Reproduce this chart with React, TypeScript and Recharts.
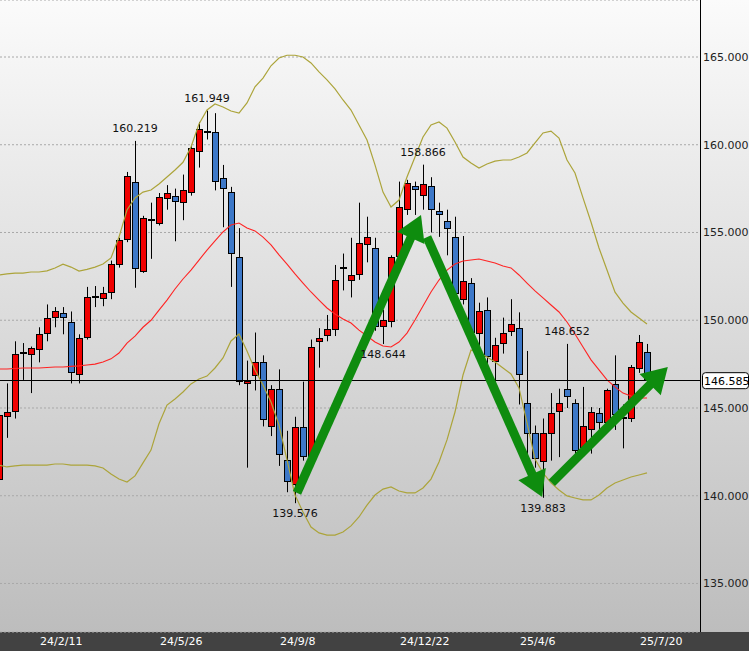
import { ComposedChart, Bar, Line, XAxis, YAxis, CartesianGrid, ReferenceLine, ReferenceDot } from 'recharts';

const FONT = '"DejaVu Sans", Verdana, sans-serif';

const weeks = [
  '23/12/31',
  '24/1/7', '24/1/14', '24/1/21', '24/1/28', '24/2/4', '24/2/11', '24/2/18', '24/2/25', '24/3/3', '24/3/10',
  '24/3/17', '24/3/24', '24/3/31', '24/4/7', '24/4/14', '24/4/21', '24/4/28', '24/5/5', '24/5/12', '24/5/19',
  '24/5/26', '24/6/2', '24/6/9', '24/6/16', '24/6/23', '24/6/30', '24/7/7', '24/7/14', '24/7/21', '24/7/28',
  '24/8/4', '24/8/11', '24/8/18', '24/8/25', '24/9/1', '24/9/8', '24/9/15', '24/9/22', '24/9/29', '24/10/6',
  '24/10/13', '24/10/20', '24/10/27', '24/11/3', '24/11/10', '24/11/17', '24/11/24', '24/12/1', '24/12/8', '24/12/15',
  '24/12/22', '24/12/29',
  '25/1/5', '25/1/12', '25/1/19', '25/1/26', '25/2/2', '25/2/9', '25/2/16', '25/2/23', '25/3/2', '25/3/9',
  '25/3/16', '25/3/23', '25/3/30', '25/4/6', '25/4/13', '25/4/20', '25/4/27', '25/5/4', '25/5/11', '25/5/18',
  '25/5/25', '25/6/1', '25/6/8', '25/6/15', '25/6/22', '25/6/29', '25/7/6', '25/7/13', '25/7/20',
];

const opens = [
  140.9, 144.5, 144.8, 148.1, 148.0, 148.3, 149.2, 150.1, 150.4, 149.9,
  146.9, 149.0, 151.3, 151.2, 151.55, 153.15, 154.6, 157.9, 152.75, 155.65,
  155.5, 156.9, 157.1, 156.7, 157.25, 159.6, 160.75, 160.7, 158.1, 157.3,
  153.6, 146.37, 146.8, 147.6, 143.9, 146.1, 142.05, 140.6, 143.9, 142.2,
  148.76, 149.1, 149.45, 152.95, 152.25, 152.6, 154.3, 154.1, 149.6, 149.9,
  153.6, 156.3, 157.65, 157.1, 157.65, 156.2, 155.65, 154.75, 151.15, 152.1,
  149.2, 150.6, 147.6, 148.65, 149.35, 149.55, 145.3, 143.6, 141.9, 143.5,
  144.8, 146.1, 145.3, 142.7, 143.75, 144.7, 144.15, 146.35, 144.4, 144.4,
  147.2, 148.2,
];
const highs = [
  145.0, 146.4, 148.8, 148.7, 148.5, 149.6, 150.9, 150.75, 150.75, 150.5,
  149.2, 151.9, 151.95, 151.9, 153.4, 154.7, 158.45, 160.219, 155.95, 156.7,
  157.25, 157.7, 157.5, 158.3, 160.0, 161.3, 161.949, 161.8, 158.85, 157.6,
  155.25, 147.7, 149.3, 148.0, 146.3, 147.2, 143.7, 144.5, 146.5, 148.9,
  149.55, 150.3, 153.15, 153.8, 154.7, 156.7, 155.9, 154.7, 150.6, 153.7,
  157.9, 158.0, 157.9, 158.866, 158.15, 156.7, 156.3, 155.9, 154.8, 152.4,
  151.0, 151.3, 149.0, 150.15, 151.2, 150.45, 148.25, 144.0, 144.4, 145.85,
  146.1, 148.652, 145.5, 146.2, 145.05, 145.0, 146.1, 148.0, 145.2, 147.45,
  149.16, 148.65,
];
const lows = [
  140.8, 143.3, 144.4, 146.6, 145.85, 147.6, 148.8, 149.6, 149.2, 146.4,
  146.4, 148.9, 150.75, 150.8, 151.2, 153.0, 154.45, 151.85, 152.7, 153.5,
  155.4, 156.3, 154.5, 155.7, 157.1, 158.7, 160.3, 157.4, 155.3, 151.9,
  146.3, 141.6, 146.0, 143.95, 143.4, 141.7, 140.2, 139.576, 142.0, 141.7,
  147.3, 148.8, 149.1, 151.7, 151.3, 152.3, 153.3, 149.4, 148.644, 149.6,
  153.2, 156.0, 156.0, 156.3, 155.0, 154.75, 153.7, 151.3, 150.9, 149.3,
  148.5, 146.6, 146.5, 148.1, 149.1, 145.2, 142.1, 141.6, 139.883, 142.0,
  142.2, 145.0, 142.1, 142.25, 142.4, 143.6, 143.75, 143.75, 142.7, 144.2,
  147.0, 146.5,
];
const closes = [
  144.6, 144.8, 148.1, 148.15, 148.4, 149.2, 150.1, 150.5, 150.1, 147.0,
  149.0, 151.3, 151.35, 151.55, 153.2, 154.6, 158.2, 152.9, 155.8, 155.7,
  157.0, 157.25, 156.75, 157.4, 159.8, 160.9, 160.7, 157.9, 157.5, 153.8,
  146.5, 146.54, 147.6, 144.3, 146.1, 142.3, 140.8, 143.9, 142.2, 148.5,
  149.0, 149.5, 152.3, 153.0, 152.6, 154.4, 154.75, 149.6, 150.0, 153.6,
  156.45, 157.8, 157.4, 157.75, 156.3, 156.0, 155.2, 151.5, 152.25, 149.3,
  150.5, 147.9, 148.6, 149.3, 149.8, 146.9, 143.5, 142.1, 143.6, 144.7,
  145.3, 145.6, 142.55, 143.95, 144.8, 144.15, 146.0, 144.6, 144.5, 147.35,
  148.76, 146.585,
];

// bollinger bands
const upperBand = [
  152.58, 152.64, 152.69, 152.69, 152.75, 152.75, 152.81, 152.98, 153.2, 153.03,
  152.8, 152.9, 153.03, 153.2, 153.55, 154.74, 156.28, 156.97, 157.3, 157.42,
  157.76, 158.16, 158.56, 159.0, 159.87, 161.18, 161.98, 162.32, 162.15, 161.92,
  161.8, 162.38, 163.3, 163.8, 164.5, 164.94, 165.1, 165.1, 165.0, 164.66,
  164.15, 163.7, 163.18, 162.55, 161.98, 161.13, 160.27, 158.85, 157.3, 156.45,
  156.85, 158.16, 159.3, 160.44, 161.13, 161.3, 160.95, 160.16, 159.3, 158.96,
  158.67, 158.9, 159.07, 159.13, 159.13, 159.3, 159.53, 160.1, 160.67, 160.78,
  160.38, 159.13, 158.39, 156.97, 155.6, 154.12, 152.86, 151.6, 150.98, 150.47,
  150.13, 149.79,
];
const midBand = [
  147.22, 147.22, 147.25, 147.28, 147.28, 147.28, 147.31, 147.34, 147.34, 147.37,
  147.4, 147.45, 147.5, 147.62, 147.8, 148.13, 148.7, 149.1, 149.6, 150.0,
  150.58, 151.15, 151.78, 152.35, 152.86, 153.43, 154.0, 154.52, 155.03, 155.43,
  155.54, 155.26, 155.09, 154.74, 154.29, 153.72, 153.2, 152.64, 152.12, 151.61,
  151.15, 150.7, 150.36, 150.07, 149.84, 149.44, 149.1, 148.76, 148.53, 148.48,
  148.76, 149.27, 150.01, 150.81, 151.61, 152.29, 152.86, 153.2, 153.38, 153.43,
  153.49, 153.38, 153.26, 153.09, 152.98, 152.58, 152.12, 151.67, 151.27, 150.87,
  150.47, 149.9, 149.22, 148.48, 147.74, 147.17, 146.6, 146.2, 145.85, 145.68,
  145.57, 145.57,
];
const lowerBand = [
  141.75, 141.64, 141.7, 141.75, 141.75, 141.75, 141.75, 141.81, 141.81, 141.75,
  141.75, 141.75, 141.7, 141.58, 141.24, 140.95, 140.78, 141.13, 141.87, 142.6,
  144.1, 145.17, 145.51, 145.91, 146.37, 146.65, 146.82, 147.28, 147.85, 148.82,
  149.22, 148.25, 147.17, 146.31, 145.34, 144.03, 142.04, 140.04, 139.07, 138.22,
  137.88, 137.76, 137.76, 137.93, 138.28, 138.79, 139.47, 140.04, 140.38, 140.5,
  140.27, 140.16, 140.16, 140.44, 140.95, 141.92, 143.18, 144.77, 146.88, 148.3,
  148.19, 147.91, 147.62, 147.28, 146.94, 146.14, 144.15, 142.09, 141.3, 140.73,
  140.33, 139.99, 139.87, 139.76, 139.76, 140.04, 140.44, 140.73, 140.9, 141.07,
  141.18, 141.3,
];

const yTicks = [135, 140, 145, 150, 155, 160, 165];
const dateTicks = ['24/2/11', '24/5/26', '24/9/8', '24/12/22', '25/4/6', '25/7/20'];
const lastPrice = 146.585;
const markedHighs = [17, 26, 53, 71];
const markedLows = [37, 48, 68];
// hand drawn arrows: [from week, from price, to week, to price]
const arrows = [
  [37.25, 140.16, 52.75, 156.0],
  [53.5, 154.74, 67.9, 139.93],
  [69.1, 140.73, 83.6, 147.34],
];

const data = weeks.map((w, i) => ({
  i,
  week: w,
  open: opens[i],
  high: highs[i],
  low: lows[i],
  close: closes[i],
  upper: upperBand[i],
  mid: midBand[i],
  lower: lowerBand[i],
}));

function Candle(props: any) {
  const { x, y, width, height, payload } = props;
  if (!payload || height == null || isNaN(y)) return null;
  const { open, high, low, close } = payload;
  const cx = Math.floor(x + width / 2);
  const yOf = (v: number) => y + ((high - v) / (high - low)) * height;
  const yo = yOf(open);
  const yc = yOf(close);
  const top = Math.min(yo, yc);
  const bot = Math.max(yo, yc);
  const up = close >= open;
  return (
    <g>
      <line x1={cx + 0.5} x2={cx + 0.5} y1={y} y2={y + height} stroke="#000" strokeWidth={1} />
      {bot - top < 1.5 ? (
        <rect x={cx - 3} y={Math.round(top) - 1} width={7} height={2} fill="#000" />
      ) : (
        <rect
          x={cx - 2.5}
          y={Math.round(top) + 0.5}
          width={6}
          height={Math.max(1, Math.round(bot) - Math.round(top) - 1)}
          fill={up ? '#f00000' : '#3d78c8'}
          stroke="#000"
          strokeWidth={1}
        />
      )}
    </g>
  );
}

function ArrowShape(props: any) {
  const { x1, y1, x2, y2 } = props;
  const dx = x2 - x1;
  const dy = y2 - y1;
  const len = Math.hypot(dx, dy) || 1;
  const ux = dx / len;
  const uy = dy / len;
  const hl = 25;
  const hw = 15;
  const bx = x2 - ux * hl;
  const by = y2 - uy * hl;
  return (
    <g>
      <line x1={x1} y1={y1} x2={bx + ux * 3} y2={by + uy * 3} stroke="#0e8c0e" strokeWidth={9} />
      <polygon
        points={`${x2},${y2} ${bx - uy * hw},${by + ux * hw} ${bx + uy * hw},${by - ux * hw}`}
        fill="#0e8c0e"
      />
    </g>
  );
}

function DateTick(props: any) {
  const { x, payload } = props;
  return (
    <text x={x - 7} y={645} fill="#ffffff" fontSize={11} fontFamily={FONT}>
      {weeks[payload.value]}
    </text>
  );
}

function PriceTag(props: any) {
  const vb = props.viewBox || {};
  const right = (vb.x || 0) + (vb.width || 0);
  const cy = vb.y || 0;
  return (
    <g>
      <rect x={right + 2.5} y={cy - 7.5} width={46} height={16} rx={3} fill="#ffffff" stroke="#000" />
      <text x={right + 4} y={cy + 4.5} fontSize={11} fontFamily={FONT} fill="#000">
        {lastPrice.toFixed(3)}
      </text>
    </g>
  );
}

export default function App() {
  return (
    <div
      style={{
        position: 'absolute',
        left: 0,
        top: 0,
        width: 749,
        height: 651,
        background: 'linear-gradient(to bottom, #fbfbfb 0px, #bdbdbd 632px, #424242 632px, #424242 651px)',
      }}
    >
      <ComposedChart width={749} height={651} data={data} margin={{ top: 0, right: 0, bottom: 0, left: 0 }}>
        <CartesianGrid vertical={false} strokeDasharray="2 2" stroke="#a8a8a8" />
        <XAxis
          dataKey="i"
          type="number"
          domain={[0.125, 87.625]}
          allowDataOverflow
          ticks={dateTicks.map((d) => weeks.indexOf(d))}
          interval={0}
          height={19}
          axisLine={false}
          tickLine={false}
          tick={<DateTick />}
        />
        <YAxis
          orientation="right"
          type="number"
          width={49}
          domain={[132.236, 168.248]}
          allowDataOverflow
          ticks={yTicks}
          interval={0}
          tickFormatter={(v: number) => v.toFixed(3)}
          axisLine={{ stroke: '#000', shapeRendering: 'crispEdges' }}
          tickLine={false}
          tickSize={0}
          tickMargin={3}
          tick={{ fontSize: 11, fill: '#222', fontFamily: FONT }}
        />
        <Bar dataKey={(d: any) => [d.low, d.high]} barSize={6} shape={Candle} isAnimationActive={false} />
        <Line dataKey="upper" type="linear" stroke="#aca43a" strokeWidth={1.2} dot={false} isAnimationActive={false} />
        <Line dataKey="lower" type="linear" stroke="#aca43a" strokeWidth={1.2} dot={false} isAnimationActive={false} />
        <Line dataKey="mid" type="linear" stroke="#ff2424" strokeWidth={1.1} dot={false} isAnimationActive={false} />
        <ReferenceLine
          y={lastPrice}
          stroke="#000"
          strokeWidth={1}
          shapeRendering="crispEdges"
          label={(p: any) => <PriceTag {...p} />}
        />
        {markedHighs.map((i) => (
          <ReferenceDot
            key={'h' + i}
            x={i}
            y={highs[i]}
            r={1}
            fill="none"
            stroke="none"
            label={{ value: highs[i].toFixed(3), position: 'top', offset: 8, fill: '#111', fontSize: 11, fontFamily: FONT }}
          />
        ))}
        {markedLows.map((i) => (
          <ReferenceDot
            key={'l' + i}
            x={i}
            y={lows[i]}
            r={1}
            fill="none"
            stroke="none"
            label={{ value: lows[i].toFixed(3), position: 'bottom', offset: 5, fill: '#111', fontSize: 11, fontFamily: FONT }}
          />
        ))}
        {arrows.map((a, n) => (
          <ReferenceLine
            key={'a' + n}
            segment={[{ x: a[0], y: a[1] }, { x: a[2], y: a[3] }]}
            shape={ArrowShape}
            ifOverflow="visible"
          />
        ))}
      </ComposedChart>
    </div>
  );
}
